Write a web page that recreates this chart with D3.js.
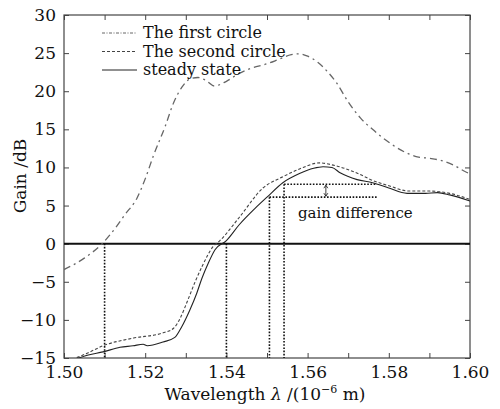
<!DOCTYPE html>
<html>
<head>
<meta charset="utf-8">
<script src="https://cdn.jsdelivr.net/npm/d3@7"></script>
<style>
  body { margin: 0; background: #fff; }
</style>
</head>
<body>
<svg id="chart"></svg>
<script>
// first circle (dash-dot)
const wl1 = [1.500, 1.505, 1.5094, 1.513, 1.515, 1.518, 1.520, 1.522, 1.525, 1.527, 1.529, 1.531, 1.533, 1.535, 1.537, 1.540, 1.543, 1.546, 1.550, 1.553, 1.556, 1.558, 1.560, 1.5625, 1.565, 1.567, 1.570, 1.573, 1.576, 1.580, 1.584, 1.587, 1.590, 1.593, 1.596, 1.599, 1.600];
const gain1 = [-3.4, -1.9, 0.0, 2.3, 3.8, 6.0, 8.5, 11.5, 15.5, 18.5, 20.5, 21.6, 21.8, 21.4, 20.7, 21.3, 22.3, 23.0, 23.6, 24.2, 24.8, 24.9, 24.6, 23.8, 22.5, 21.2, 18.6, 16.5, 15.0, 13.3, 12.0, 11.4, 11.2, 10.9, 10.3, 9.4, 9.2];

// second circle (dashed)
const wl2 = [1.502, 1.506, 1.5096, 1.517, 1.5244, 1.527, 1.5286, 1.5305, 1.5323, 1.534, 1.5367, 1.5384, 1.5431, 1.549, 1.554, 1.558, 1.563, 1.5663, 1.572, 1.576, 1.580, 1.585, 1.590, 1.595, 1.600];
const gain2 = [-15.2, -14.3, -13.4, -12.4, -11.7, -11.1, -9.8, -7.4, -5.0, -3.0, -0.4, 0.4, 3.4, 7.3, 8.8, 9.8, 10.6, 10.3, 9.3, 8.3, 7.6, 6.9, 6.9, 6.6, 5.8];

// steady state (solid)
const wlS = [1.503, 1.506, 1.5096, 1.5138, 1.517, 1.5195, 1.5205, 1.5244, 1.5273, 1.529, 1.531, 1.5327, 1.534, 1.5355, 1.5372, 1.540, 1.5431, 1.547, 1.550, 1.5539, 1.558, 1.5615, 1.5638, 1.566, 1.568, 1.5722, 1.576, 1.580, 1.5845, 1.589, 1.592, 1.595, 1.600];
const gainS = [-15.1, -14.6, -14.2, -13.6, -13.4, -13.2, -13.4, -12.9, -12.3, -10.9, -8.7, -6.5, -4.5, -2.6, -0.8, 0.4, 2.45, 4.6, 6.1, 8.0, 9.2, 9.9, 10.1, 10.0, 9.3, 8.4, 8.0, 7.3, 6.6, 6.6, 6.7, 6.4, 5.6];

// dotted guide lines
const dropWl = [1.51, 1.54, 1.5506, 1.5542];
const dropTop = [0, 0, 6.1, 7.8];
const levelGain = [6.1, 7.8];
const levelEnd = 1.577;
const arrowWl = 1.5645;

const xTicks = [1.50, 1.51, 1.52, 1.53, 1.54, 1.55, 1.56, 1.57, 1.58, 1.59, 1.60];
const yTicks = [-15, -10, -5, 0, 5, 10, 15, 20, 25, 30];

const legendNames = ["The first circle", "The second circle", "steady state"];

const width = 500, height = 409;
const margin = {top: 15, right: 30, bottom: 51, left: 64};
const serif = "DejaVu Serif";

const x = d3.scaleLinear().domain([1.50, 1.60]).range([margin.left, width - margin.right]);
const y = d3.scaleLinear().domain([-15, 30]).range([height - margin.bottom, margin.top]);

const svg = d3.select("#chart")
    .attr("width", width)
    .attr("height", height)
    .attr("viewBox", [0, 0, width, height])
    .style("font-family", serif);

svg.append("defs").append("clipPath").attr("id", "clip")
  .append("rect")
    .attr("x", margin.left).attr("y", margin.top)
    .attr("width", x.range()[1] - margin.left)
    .attr("height", y.range()[0] - margin.top);

// axes, ticks pointing inward
const fmtX = d => (Math.round(d * 100) % 2 === 0) ? d3.format(".2f")(d) : "";

svg.append("g")
    .attr("transform", `translate(0,${y.range()[0]})`)
    .call(d3.axisBottom(x).tickValues(xTicks).tickSize(-5).tickPadding(8).tickFormat(fmtX))
    .call(g => g.select(".domain").remove())
    .call(g => g.selectAll("line").attr("stroke", "#444"))
    .call(g => g.selectAll("text").style("font-family", serif).attr("font-size", 17).attr("fill", "#111"));

svg.append("g")
    .attr("transform", `translate(0,${margin.top})`)
    .call(d3.axisTop(x).tickValues(xTicks).tickSize(-5).tickFormat(""))
    .call(g => g.select(".domain").remove())
    .call(g => g.selectAll("line").attr("stroke", "#444"));

svg.append("g")
    .attr("transform", `translate(${margin.left},0)`)
    .call(d3.axisLeft(y).tickValues(yTicks).tickSize(-5).tickPadding(8))
    .call(g => g.select(".domain").remove())
    .call(g => g.selectAll("line").attr("stroke", "#444"))
    .call(g => g.selectAll("text").style("font-family", serif).attr("font-size", 17).attr("fill", "#111"));

svg.append("g")
    .attr("transform", `translate(${x.range()[1]},0)`)
    .call(d3.axisRight(y).tickValues(yTicks).tickSize(-5).tickFormat(""))
    .call(g => g.select(".domain").remove())
    .call(g => g.selectAll("line").attr("stroke", "#444"));

svg.append("rect")
    .attr("x", margin.left).attr("y", margin.top)
    .attr("width", x.range()[1] - margin.left)
    .attr("height", y.range()[0] - margin.top)
    .attr("fill", "none")
    .attr("stroke", "#444")
    .attr("stroke-width", 1.2);

// zero line
svg.append("line")
    .attr("x1", x(1.50)).attr("x2", x(1.60))
    .attr("y1", y(0)).attr("y2", y(0))
    .attr("stroke", "#111")
    .attr("stroke-width", 2);

// dotted guides
const guides = svg.append("g")
    .attr("stroke", "#111")
    .attr("stroke-width", 1.6)
    .attr("stroke-dasharray", "1.6,1.6");

guides.selectAll(".drop")
  .data(dropWl)
  .join("line")
    .attr("x1", d => x(d)).attr("x2", d => x(d))
    .attr("y1", (d, i) => y(dropTop[i]))
    .attr("y2", y(-15));

guides.selectAll(".level")
  .data(levelGain)
  .join("line")
    .attr("x1", (d, i) => x(dropWl[2 + i]))
    .attr("x2", x(levelEnd))
    .attr("y1", d => y(d)).attr("y2", d => y(d));

// small double arrow for the gain difference
const ax = x(arrowWl);
const ya = y(levelGain[1]) + 1, yb = y(levelGain[0]) - 1;
svg.append("line")
    .attr("x1", ax).attr("x2", ax).attr("y1", ya).attr("y2", yb)
    .attr("stroke", "#111").attr("stroke-width", 0.8);
svg.append("path")
    .attr("d", `M${ax - 2},${ya + 3}L${ax},${ya}L${ax + 2},${ya + 3}M${ax - 2},${yb - 3}L${ax},${yb}L${ax + 2},${yb - 3}`)
    .attr("fill", "none").attr("stroke", "#111").attr("stroke-width", 0.8);

svg.append("text")
    .attr("x", 298).attr("y", y(3.4))
    .attr("font-size", 15)
    .attr("fill", "#111")
    .text("gain difference");

// curves
const line = d3.line()
    .x(d => x(d[0]))
    .y(d => y(d[1]))
    .curve(d3.curveMonotoneX);

const series = [
  {name: legendNames[0], pts: d3.zip(wl1, gain1), color: "#666", dash: "7,4,2,4", w: 1.3},
  {name: legendNames[1], pts: d3.zip(wl2, gain2), color: "#444", dash: "3,2", w: 1.1},
  {name: legendNames[2], pts: d3.zip(wlS, gainS), color: "#222", dash: null, w: 1.1}
];

svg.append("g")
    .attr("clip-path", "url(#clip)")
  .selectAll("path")
  .data(series)
  .join("path")
    .attr("d", d => line(d.pts))
    .attr("fill", "none")
    .attr("stroke", d => d.color)
    .attr("stroke-width", d => d.w)
    .attr("stroke-dasharray", d => d.dash);

// legend
const legend = svg.append("g")
  .selectAll("g")
  .data(series)
  .join("g")
    .attr("transform", (d, i) => `translate(102,${33 + i * 18.5})`);

legend.append("line")
    .attr("x1", 0).attr("x2", 35)
    .attr("stroke", d => d.color)
    .attr("stroke-width", 1)
    .attr("stroke-dasharray", (d, i) => i === 0 ? "3,1.5,1,1.5" : d.dash);

legend.append("text")
    .attr("x", 41).attr("dy", "0.32em")
    .attr("font-size", 16)
    .attr("fill", "#111")
    .text(d => d.name);

// axis titles
const xt = svg.append("text")
    .attr("x", 265).attr("y", 400)
    .attr("text-anchor", "middle")
    .attr("font-size", 17)
    .attr("fill", "#111");
xt.append("tspan").text("Wavelength ");
xt.append("tspan").attr("font-style", "italic").text("λ");
xt.append("tspan").text(" /(10");
xt.append("tspan").attr("font-size", 11).attr("dy", -7).text("−6");
xt.append("tspan").attr("dy", 7).text(" m)");

svg.append("text")
    .attr("transform", `translate(26,176) rotate(-90)`)
    .attr("text-anchor", "middle")
    .attr("font-size", 17)
    .attr("fill", "#111")
    .text("Gain /dB");
</script>
</body>
</html>
